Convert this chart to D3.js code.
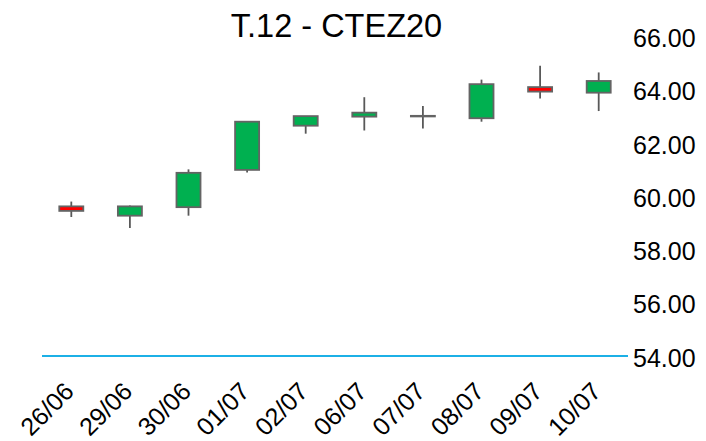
<!DOCTYPE html>
<html>
<head>
<meta charset="utf-8">
<script src="https://cdn.jsdelivr.net/npm/d3@7"></script>
<style>
  body { margin: 0; background: #fff; }
  text { font-family: "Liberation Sans", Arial, sans-serif; fill: #000; }
</style>
</head>
<body>
<div id="chart"></div>
<script>
const dates = ['26/06', '29/06', '30/06', '01/07', '02/07', '06/07', '07/07', '08/07', '09/07', '10/07'];
const opens = [59.62, 59.27, 59.59, 60.99, 62.65, 62.99, 63.02, 62.93, 64.10, 63.89];
const highs = [59.80, 59.65, 61.01, 62.82, 63.01, 63.72, 63.39, 64.38, 64.90, 64.65];
const lows = [59.22, 58.81, 59.27, 60.89, 62.35, 62.47, 62.54, 62.80, 63.67, 63.20];
const closes = [59.45, 59.62, 60.88, 62.80, 63.01, 63.14, 63.02, 64.21, 63.93, 64.33];
const yTicks = [54, 56, 58, 60, 62, 64, 66];

const width = 706;
const height = 441;

const candles = dates.map((d, i) => ({
  date: d,
  open: opens[i],
  high: highs[i],
  low: lows[i],
  close: closes[i],
}));

const svg = d3
  .select('#chart')
  .append('svg')
  .attr('width', width)
  .attr('height', height);

const xScale = d3
  .scaleBand()
  .domain(dates)
  .range([42, 628])
  .paddingInner(0.59)
  .paddingOuter(0.295);

const yScale = d3
  .scaleLinear()
  .domain([54, 66])
  .range([356, 36.5]);

// title
svg
  .append('text')
  .attr('x', 336.5)
  .attr('y', 37)
  .attr('text-anchor', 'middle')
  .style('font-size', '32.5px')
  .text('T.12 - CTEZ20');

// baseline (x axis)
svg
  .append('line')
  .attr('x1', 42)
  .attr('x2', 628)
  .attr('y1', yScale(54))
  .attr('y2', yScale(54))
  .attr('stroke', '#1cb0e6')
  .attr('stroke-width', 2);

// right axis labels
const yAxis = d3
  .axisRight(yScale)
  .tickValues(yTicks)
  .tickSize(0)
  .tickPadding(0)
  .tickFormat(d3.format('.2f'));

const yg = svg
  .append('g')
  .attr('transform', 'translate(633, 0)')
  .call(yAxis);
yg.select('.domain').remove();
yg.selectAll('text')
  .attr('dy', '0.4em')
  .style('font-size', '25px')
  .style('font-family', '"Liberation Sans", Arial, sans-serif')
  .attr('fill', '#000');

// date labels
const xAxis = d3.axisBottom(xScale).tickSize(0).tickPadding(0);
const xg = svg
  .append('g')
  .attr('transform', `translate(0, ${yScale(54)})`)
  .call(xAxis);
xg.select('.domain').remove();
xg.selectAll('text')
  .attr('text-anchor', 'end')
  .attr('dy', 0)
  .attr('y', 0)
  .attr('transform', 'translate(4, 37) rotate(-45)')
  .style('font-size', '25px')
  .style('font-family', '"Liberation Sans", Arial, sans-serif')
  .attr('fill', '#000');

// candles
const g = svg.append('g').attr('class', 'candles');
const cx = (d) => xScale(d.date) + xScale.bandwidth() / 2;

g.selectAll('line.wick')
  .data(candles)
  .join('line')
  .attr('class', 'wick')
  .attr('x1', cx)
  .attr('x2', cx)
  .attr('y1', (d) => yScale(d.high))
  .attr('y2', (d) => yScale(d.low))
  .attr('stroke', '#595959')
  .attr('stroke-width', 1.8);

// bodies: a doji (open == close) still gets a thin body so its stroke shows
g.selectAll('rect.body')
  .data(candles)
  .join('rect')
  .attr('class', 'body')
  .attr('x', (d) => xScale(d.date))
  .attr('width', xScale.bandwidth())
  .attr('y', (d) => yScale(Math.max(d.open, d.close)))
  .attr('height', (d) => Math.max(0.6, Math.abs(yScale(d.open) - yScale(d.close))))
  .attr('fill', (d) => (d.close > d.open ? '#00b050' : d.close < d.open ? '#ff0000' : '#646464'))
  .attr('stroke', '#646464')
  .attr('stroke-width', 1.8);
</script>
</body>
</html>
